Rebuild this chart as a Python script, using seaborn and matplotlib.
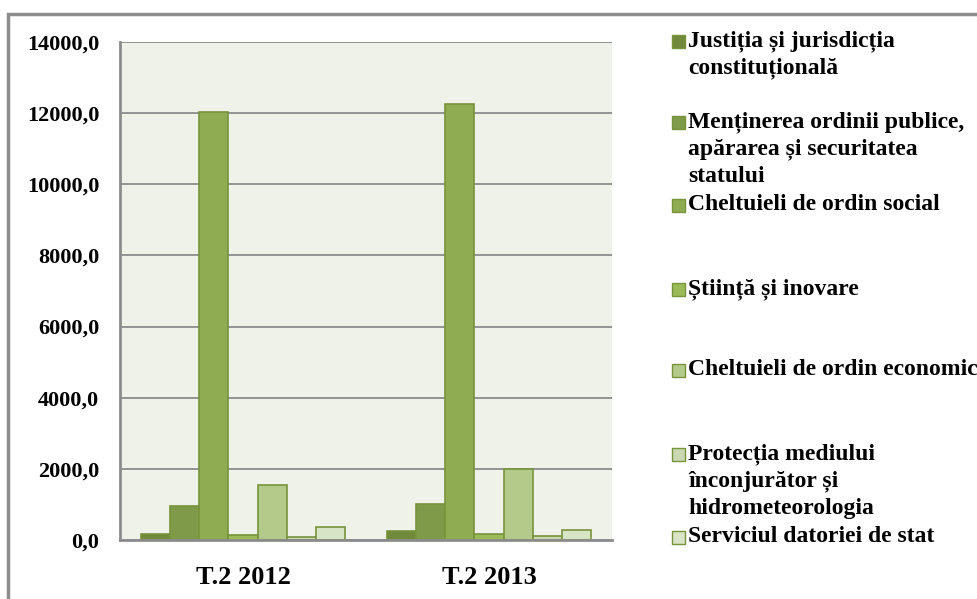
import matplotlib
matplotlib.use("Agg")
import matplotlib.pyplot as plt
import seaborn as sns
import pandas as pd
from matplotlib.patches import Rectangle

periods = ["T.2 2012", "T.2 2013"]
categories = [
    "Justiția și jurisdicția\nconstituțională",
    "Menținerea ordinii publice,\napărarea și securitatea\nstatului",
    "Cheltuieli de ordin social",
    "Știință și inovare",
    "Cheltuieli de ordin economic",
    "Protecția mediului\nînconjurător și\nhidrometeorologia",
    "Serviciul datoriei de stat",
]
values_2012 = [160, 950, 12040, 150, 1560, 95, 375]
values_2013 = [250, 1000, 12250, 160, 1985, 120, 270]
colors = ["#71893A", "#7F9A48", "#8FAC52", "#9BBB59", "#B3CA8A", "#C9D8B0", "#D7E4C5"]
yticks = [0, 2000, 4000, 6000, 8000, 10000, 12000, 14000]

rows = []
for c, v1, v2 in zip(categories, values_2012, values_2013):
    rows.append({"period": periods[0], "category": c, "value": v1})
    rows.append({"period": periods[1], "category": c, "value": v2})
df = pd.DataFrame(rows)

sns.set_theme(style="white")
FONT = ["Liberation Serif", "DejaVu Serif"]
plt.rcParams["font.family"] = FONT
plt.rcParams["font.weight"] = "bold"
plt.rcParams["text.color"] = "black"
plt.rcParams["xtick.color"] = "black"
plt.rcParams["ytick.color"] = "black"

W, H = 978, 599
fig = plt.figure(figsize=(W / 100, H / 100), dpi=100)
ax = fig.add_axes([120 / W, (H - 540) / H, 492 / W, 498 / H])
ax.set_facecolor("#EFF2E8")

sns.barplot(data=df, x="period", y="value", hue="category", hue_order=categories,
            palette=colors, width=0.83, edgecolor="#77933C", linewidth=1.2,
            saturation=1, legend=False, ax=ax)

ax.set_ylim(0, 14000)
ax.set_xlim(-0.5, 1.5)
ax.set_yticks(yticks)
ax.set_yticklabels([f"{t:.1f}".replace(".", ",") for t in yticks])
ax.yaxis.grid(True, color="#8C8C8C", linewidth=1.3)
ax.set_axisbelow(True)
ax.set_xlabel("")
ax.set_ylabel("")
for s in ["top", "right"]:
    ax.spines[s].set_visible(False)
for s in ["left", "bottom"]:
    ax.spines[s].set_color("#8C8C8C")
    ax.spines[s].set_linewidth(2)
ax.tick_params(axis="y", length=0, pad=15, labelsize=16, labelcolor="black")
ax.tick_params(axis="x", length=0, pad=19, labelsize=19, labelcolor="black")
for lab in ax.get_xticklabels() + ax.get_yticklabels():
    lab.set_fontweight("bold")

# outer chart frame
fig.patches.append(Rectangle((8 / W, -0.1), 1.2, (H - 14) / H + 0.1, transform=fig.transFigure,
                             fill=False, edgecolor="#8C8C8C", linewidth=2.5))

# legend (manual layout like the original)
first_line_y = [41, 122, 205, 289, 370, 454, 537]
for c, col, y in zip(categories, colors, first_line_y):
    fig.patches.append(Rectangle((672 / W, (H - y - 7) / H), 13 / W, 13 / H,
                                 transform=fig.transFigure, facecolor=col,
                                 edgecolor="#77933C", linewidth=1))
    fig.text(688 / W, (H - y + 11) / H, c, ha="left", va="top", fontsize=17,
             fontweight="bold", linespacing=1.38, color="black")

fig.savefig("out.png", dpi=100)
